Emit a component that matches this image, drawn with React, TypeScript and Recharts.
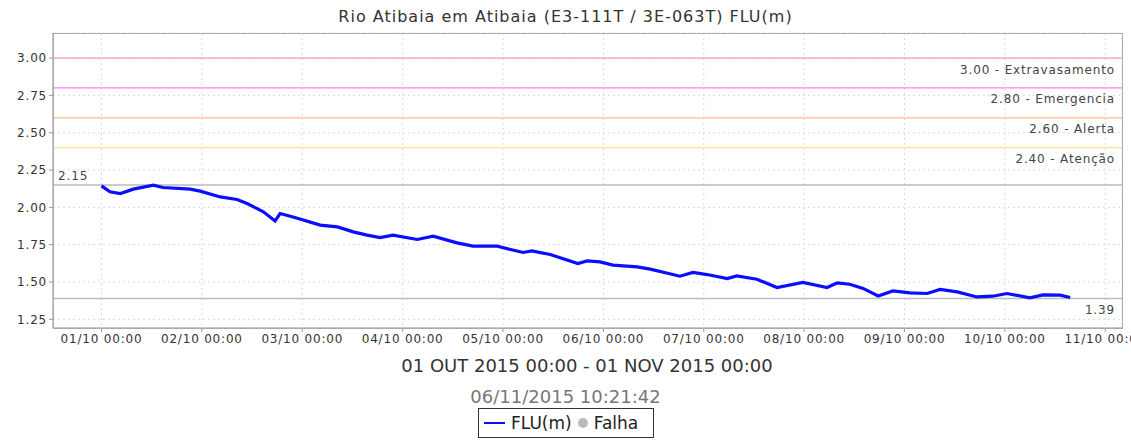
import { LineChart, Line, XAxis, YAxis, CartesianGrid, ReferenceLine } from 'recharts'

// hours since 01/10 00:00 and water level (m)
const hours = [
  0, 2, 4.5, 7.6, 12.4, 14.7, 21.2, 23.6, 28.4, 32.4, 34.8, 38.7, 41.5, 42.7, 45.8,
  52.3, 56.4, 60.2, 63.5, 66.6, 69.7, 75.5, 79.3, 85.0, 88.8, 94.6, 100.8, 102.9,
  107.3, 113.9, 116.1, 119.2, 122.3, 128.1, 131.2, 138.3, 141.4, 144.8, 149.6, 151.9,
  156.7, 161.5, 167.7, 173.5, 175.9, 178.9, 182.1, 185.7, 189.2, 193.3, 197.4, 200.5,
  204.6, 209.3, 213.1, 216.5, 222.0, 225.1, 229.2, 231.6,
]
const levels = [
  2.144, 2.104, 2.093, 2.122, 2.149, 2.133, 2.122, 2.109, 2.07, 2.053, 2.026, 1.97, 1.909, 1.959, 1.936,
  1.881, 1.869, 1.836, 1.814, 1.798, 1.814, 1.785, 1.807, 1.762, 1.74, 1.74, 1.698, 1.709,
  1.684, 1.624, 1.641, 1.635, 1.613, 1.601, 1.586, 1.539, 1.564, 1.55, 1.523, 1.541,
  1.519, 1.463, 1.497, 1.463, 1.494, 1.485, 1.457, 1.407, 1.44, 1.427, 1.423, 1.45,
  1.434, 1.4, 1.405, 1.423, 1.394, 1.414, 1.412, 1.396,
]

const dayTicks = [0, 24, 48, 72, 96, 120, 144, 168, 192, 216, 240]
const dayLabels = [
  '01/10 00:00', '02/10 00:00', '03/10 00:00', '04/10 00:00', '05/10 00:00', '06/10 00:00',
  '07/10 00:00', '08/10 00:00', '09/10 00:00', '10/10 00:00', '11/10 00:00',
]
const levelTicks = [1.25, 1.5, 1.75, 2.0, 2.25, 2.5, 2.75, 3.0]

const thresholdValues = [3.0, 2.8, 2.6, 2.4]
const thresholdNames = ['Extravasamento', 'Emergencia', 'Alerta', 'Atenção']
const levelMax = 2.15
const levelMin = 1.39

const THRESHOLD_COLORS = ['#f2a0a0', '#ff80ff', '#ffc088', '#ffe882']

const data = hours.map((h, i) => ({ h, flu: levels[i] }))

const FONT = 'DejaVu Sans, sans-serif'
const SMALL = { fontSize: 12, fill: '#333', letterSpacing: 0.8 }
const NOTE = { fontSize: 12, fill: '#444', letterSpacing: 0.85 }

export default function App() {
  return (
    <div style={{ position: 'relative', width: 1131, height: 442, fontFamily: FONT, background: '#fff' }}>
      <style>{'body{margin:0}'}</style>
      <div style={{ position: 'absolute', left: 0, width: 1131, top: 7, textAlign: 'center', fontSize: 16, letterSpacing: 1, color: '#333' }}>
        Rio Atibaia em Atibaia (E3-111T / 3E-063T) FLU(m)
      </div>

      <LineChart
        width={1131}
        height={350}
        data={data}
        margin={{ top: 33, right: 9, left: 0, bottom: 0 }}
        style={{ fontFamily: FONT, position: 'absolute', left: 0, top: 0 }}
      >
        <CartesianGrid stroke="#dcdcdc" strokeDasharray="2 3" />
        <XAxis
          dataKey="h"
          type="number"
          domain={[-11.6, 244]}
          ticks={dayTicks}
          interval={0}
          allowDataOverflow
          tickFormatter={(v: number) => dayLabels[dayTicks.indexOf(v)] ?? ''}
          tick={SMALL}
          stroke="#999"
          tickSize={4}
          height={22}
        />
        <YAxis
          type="number"
          domain={[1.192, 3.168]}
          ticks={levelTicks}
          allowDataOverflow
          tickFormatter={(v: number) => v.toFixed(2)}
          tick={SMALL}
          stroke="#999"
          tickSize={4}
          width={53}
        />
        {thresholdValues.map((v, i) => (
          <ReferenceLine
            key={v}
            y={v}
            stroke={THRESHOLD_COLORS[i]}
            strokeWidth={1.2}
            label={{
              value: `${v.toFixed(2)} - ${thresholdNames[i]}`,
              position: 'insideTopRight',
              offset: 7,
              ...NOTE,
            }}
          />
        ))}
        <ReferenceLine
          y={levelMax}
          stroke="#bbb"
          strokeWidth={1.5}
          label={{ value: levelMax.toFixed(2), position: 'insideBottomLeft', offset: 5, ...NOTE }}
        />
        <ReferenceLine
          y={levelMin}
          stroke="#bbb"
          strokeWidth={1.5}
          label={{ value: levelMin.toFixed(2), position: 'insideTopRight', offset: 7, ...NOTE }}
        />
        <Line
          type="linear"
          dataKey="flu"
          stroke="#0c0cff"
          strokeWidth={3.2}
          dot={false}
          isAnimationActive={false}
        />
      </LineChart>

      {/* plot frame */}
      <div style={{ position: 'absolute', left: 53, top: 33, width: 1068, height: 294, border: '1px solid #aaa', pointerEvents: 'none' }} />

      <div style={{ position: 'absolute', left: 0, width: 1174, top: 355, textAlign: 'center', fontSize: 18, color: '#333' }}>
        01 OUT 2015 00:00 - 01 NOV 2015 00:00
      </div>
      <div style={{ position: 'absolute', left: 0, width: 1131, top: 386, textAlign: 'center', fontSize: 18, color: '#777' }}>
        06/11/2015 10:21:42
      </div>
      <div
        style={{
          position: 'absolute', left: 478, top: 408, width: 174, height: 28, border: '1px solid #333',
          display: 'flex', alignItems: 'center', fontSize: 17, color: '#222', boxSizing: 'content-box',
        }}
      >
        <span style={{ display: 'inline-block', width: 21, height: 2, background: '#0c0cff', marginLeft: 5, marginRight: 6 }} />
        <span>FLU(m)</span>
        <span style={{ display: 'inline-block', width: 10, height: 10, borderRadius: 5, background: '#bbb', marginLeft: 6, marginRight: 6 }} />
        <span>Falha</span>
      </div>
    </div>
  )
}
